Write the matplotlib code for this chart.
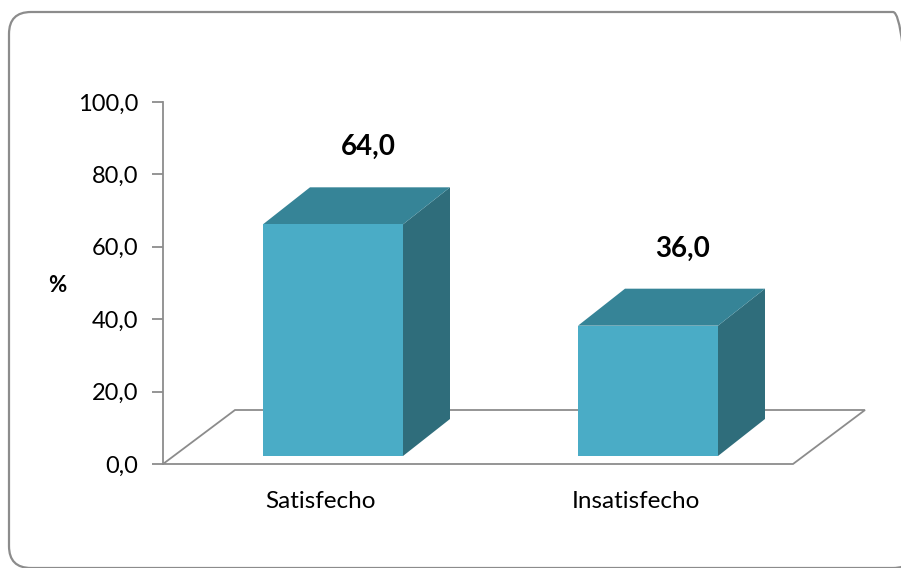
import matplotlib.pyplot as plt
from matplotlib.patches import Polygon, FancyBboxPatch
from matplotlib.transforms import IdentityTransform

categories = ["Satisfecho", "Insatisfecho"]
values = [64.0, 36.0]
yticks = [0, 20, 40, 60, 80, 100]

plt.rcParams["font.family"] = ["Lato", "DejaVu Sans"]

W, H = 901, 568
fig = plt.figure(figsize=(W / 100, H / 100), dpi=100)

# chart frame (display pixels), runs off the right and bottom edges
frame = FancyBboxPatch((9, 0), 906, 556, boxstyle="round,pad=0,rounding_size=22",
                       transform=IdentityTransform(), fill=False,
                       edgecolor="#8c8c8c", linewidth=1.6)
fig.patches.append(frame)

# plot area: x in pixels of the floor, y in percent
x0, x1, ybot, ytop = 163, 867, 464, 102
ax = fig.add_axes([x0 / W, (H - ybot) / H, (x1 - x0) / W, (ybot - ytop) / H])
ax.set_xlim(0, x1 - x0)
ax.set_ylim(0, 100)
ppu = (ybot - ytop) / 100.0  # pixels per percent

floor_dx, floor_dy = 72, 54 / ppu
slot = 630 / len(categories)
bar_w = 140
bar_dx, bar_dy = 47, 37 / ppu
off_x, off_y = 12.5, 8 / ppu

# floor
floor = Polygon([(0, 0), (floor_dx, floor_dy), (630 + floor_dx, floor_dy), (630, 0)],
                closed=True, facecolor="white", edgecolor="#8c8c8c", lw=1.3,
                clip_on=False, zorder=1)
ax.add_patch(floor)

front_c, top_c, side_c = "#4aacc6", "#368497", "#2f6d7b"
for i, v in enumerate(values):
    xl = i * slot + (slot - bar_w) / 2 + off_x
    xr = xl + bar_w
    yb, yt = off_y, off_y + v
    ax.add_patch(Polygon([(xr, yb), (xr + bar_dx, yb + bar_dy), (xr + bar_dx, yt + bar_dy), (xr, yt)],
                         facecolor=side_c, edgecolor="none", clip_on=False, zorder=3))
    ax.add_patch(Polygon([(xl, yt), (xl + bar_dx, yt + bar_dy), (xr + bar_dx, yt + bar_dy), (xr, yt)],
                         facecolor=top_c, edgecolor="none", clip_on=False, zorder=3))
    ax.add_patch(Polygon([(xl, yb), (xr, yb), (xr, yt), (xl, yt)],
                         facecolor=front_c, edgecolor="none", clip_on=False, zorder=4))
    ax.text((xl + xr) / 2 + 35, yt + 77 / ppu, f"{v:.1f}".replace(".", ","),
            ha="center", va="center", fontsize=20, fontweight="bold", clip_on=False)
    ax.text((i + 0.5) * slot, -37 / ppu, categories[i], ha="center", va="center",
            fontsize=17.5, clip_on=False)

ax.set_yticks(yticks)
ax.set_yticklabels([f"{t:.1f}".replace(".", ",") for t in yticks], fontsize=17)
ax.tick_params(axis="y", length=8, width=1.3, color="#8c8c8c", pad=10)
ax.set_xticks([])
for s in ["top", "right", "bottom"]:
    ax.spines[s].set_visible(False)
ax.spines["left"].set_color("#8c8c8c")
ax.spines["left"].set_linewidth(1.3)
ax.patch.set_visible(False)

fig.text(57 / W, (H - 286) / H, "%", ha="center", va="center", fontsize=16, fontweight="bold")

fig.savefig("out.png", dpi=100)
